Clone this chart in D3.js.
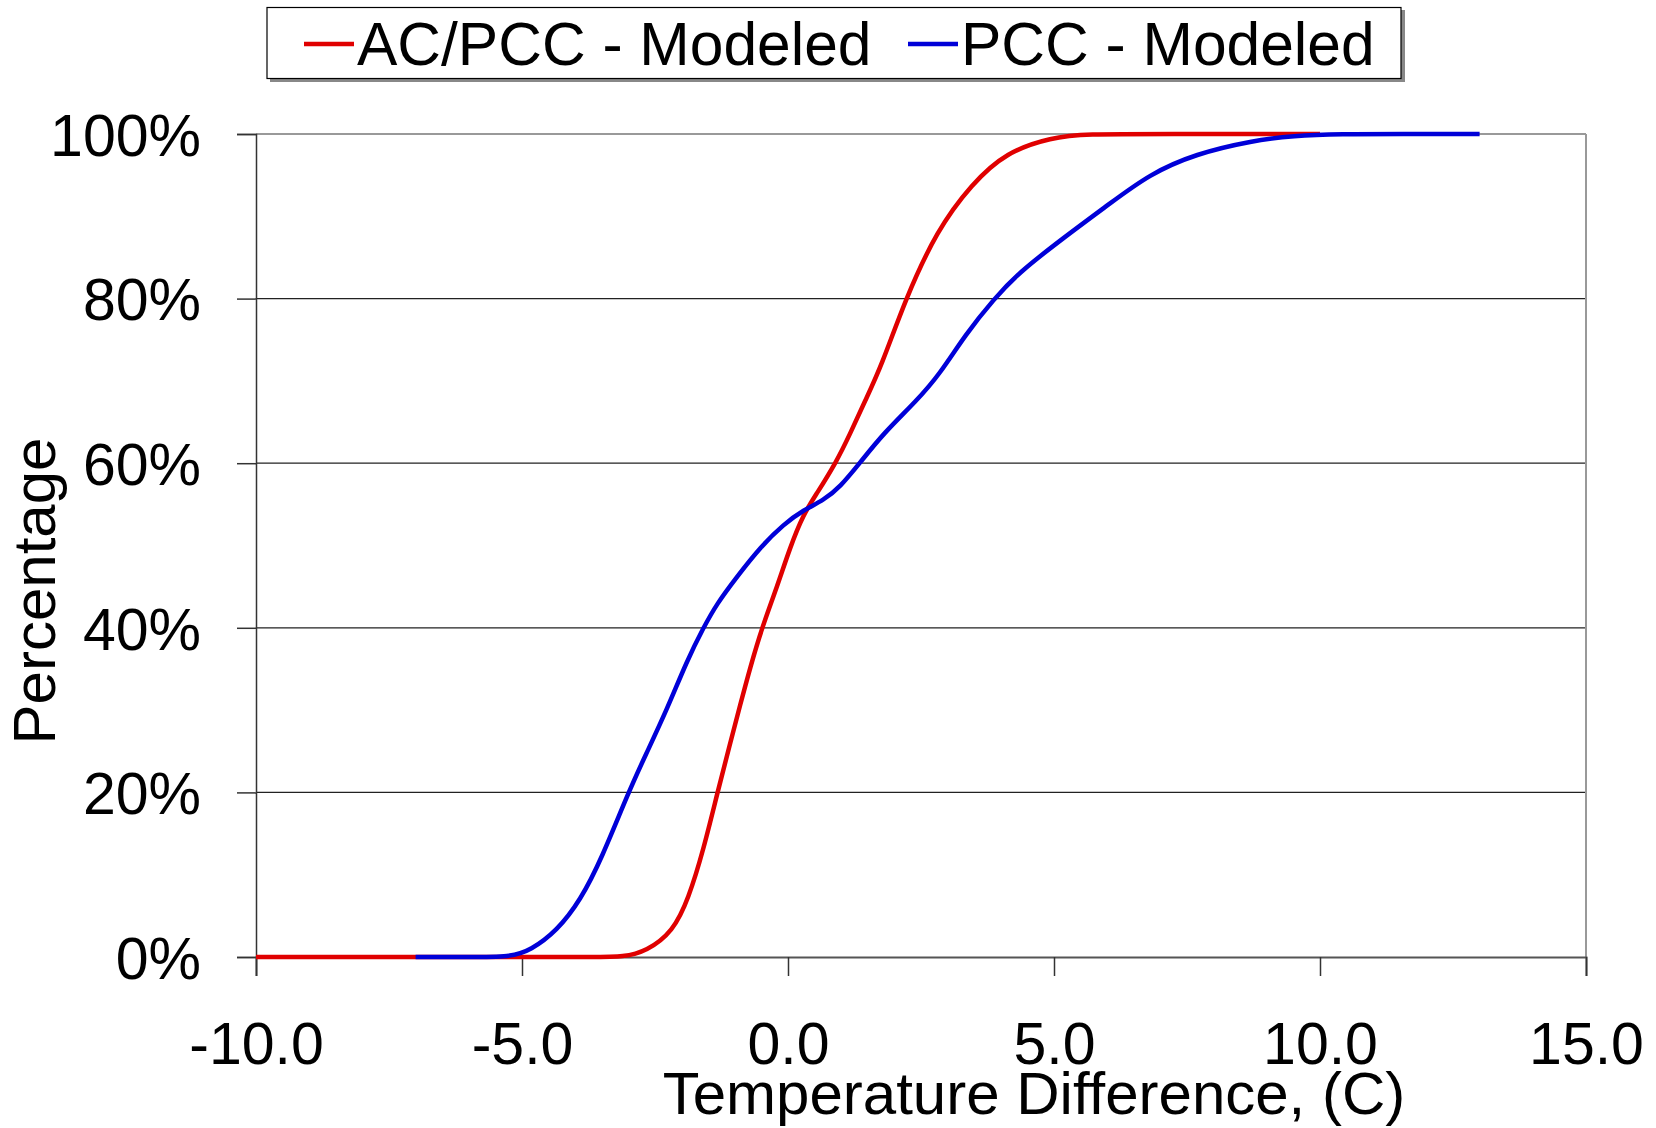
<!DOCTYPE html>
<html>
<head>
  <meta charset="utf-8">
  <title>Temperature Difference CDF</title>
<style>
body { margin: 0; background: #fff; }
text { font-family: "Liberation Sans", Arial, sans-serif; fill: #000; }
.grid line { stroke: #222; stroke-width: 1.2px; }
.series { fill: none; stroke-width: 4.5px; stroke-linejoin: round; }
</style>
</head>
<body>
<svg id="chart" width="1656" height="1128"></svg>
<script src="https://cdn.jsdelivr.net/npm/d3@7"></script>
<script>

// x: temperature difference (C), y: cumulative percentage
var acpccX = [-10, -7, -5, -3.6, -3.1, -2.66, -2.16, -1.87, -1.59, -1.325, -1.09, -0.90, -0.71, -0.49, -0.21, 0.04, 0.29, 0.54, 0.905, 1.17, 1.45, 1.75, 2.21, 2.80, 3.45, 4.10, 4.96, 5.6, 7, 10];
var acpccY = [0, 0, 0, 0, 0, 0.7, 3.1, 7.1, 13.0, 20, 25.9, 30.6, 35.2, 40, 44.9, 49.8, 53.8, 56.3, 60.1, 63.6, 67.6, 71.7, 80, 88.3, 93.9, 97.8, 99.6, 100, 100, 100];

var pccX = [-7, -6, -5.22, -4.84, -4.34, -3.90, -3.50, -3.0, -2.68, -2.28, -1.90, -1.59, -1.34, -0.96, -0.52, -0.08, 0.29, 0.67, 0.98, 1.36, 1.79, 2.42, 2.85, 3.34, 3.88, 4.31, 5.18, 6.04, 6.79, 7.66, 8.74, 9.49, 10.4, 11.5, 13.0];
var pccY = [0, 0, 0, 0.8, 3.2, 6.9, 12.0, 20, 24.5, 30.0, 36.0, 40, 42.9, 46.2, 49.8, 52.6, 54.3, 55.5, 57.1, 60.1, 63.6, 67.6, 70.8, 75.7, 80, 83, 87.4, 91.5, 95.1, 97.6, 99.2, 99.8, 100, 100, 100];

var xTicks = [-10, -5, 0, 5, 10, 15];
var yTicks = [0, 20, 40, 60, 80, 100];
var seriesNames = ["AC/PCC - Modeled", "PCC - Modeled"];
var seriesColors = ["#e00000", "#0000d8"];

var svg = d3.select("#chart");
var plotL = 256, plotR = 1586, plotT = 134, plotB = 957;

var x = d3.scaleLinear().domain([-10, 15]).range([plotL, plotR]);
var y = d3.scaleLinear().domain([0, 100]).range([plotB, plotT]);

// gridlines
svg.append("g").attr("class", "grid")
  .selectAll("line").data(yTicks.filter(function (d) { return d > 0 && d < 100; }))
  .enter().append("line")
  .attr("x1", plotL).attr("x2", plotR)
  .attr("y1", function (d) { return y(d); })
  .attr("y2", function (d) { return y(d); });

// top and right border
svg.append("line").attr("x1", plotL).attr("x2", plotR).attr("y1", plotT).attr("y2", plotT)
  .attr("stroke", "#999").attr("stroke-width", 2);
svg.append("line").attr("x1", plotR).attr("x2", plotR).attr("y1", plotT).attr("y2", plotB)
  .attr("stroke", "#999").attr("stroke-width", 2);

// axes
var yAxis = svg.append("g")
  .attr("transform", "translate(" + plotL + ",0)")
  .call(d3.axisLeft(y).tickValues(yTicks).tickSize(19).tickPadding(36)
    .tickFormat(function (d) { return d + "%"; }));
yAxis.select(".domain").attr("stroke", "#333").attr("stroke-width", 1.5);
yAxis.selectAll(".tick line").attr("stroke", "#333").attr("stroke-width", 1.5);
yAxis.selectAll(".tick text").attr("font-size", 59).attr("dy", "0.36em")
  .attr("font-family", "Liberation Sans, Arial, sans-serif").attr("fill", "#000");

var xAxis = svg.append("g")
  .attr("transform", "translate(0," + plotB + ")")
  .call(d3.axisBottom(x).tickValues(xTicks).tickSize(19).tickPadding(0));
xAxis.select(".domain").attr("stroke", "#555").attr("stroke-width", 2);
xAxis.selectAll(".tick line").attr("stroke", "#333").attr("stroke-width", 1.5);
xAxis.selectAll(".tick text").attr("font-size", 59).attr("dy", null).attr("y", 107)
  .attr("font-family", "Liberation Sans, Arial, sans-serif").attr("fill", "#000")
  .text(function (d) { return d.toFixed(1); });

// series (smoothed like the original spreadsheet lines)
var line = d3.line()
  .x(function (d) { return x(d[0]); })
  .y(function (d) { return y(d[1]); })
  .curve(d3.curveBasis);

var series = [d3.zip(acpccX, acpccY), d3.zip(pccX, pccY)];
svg.selectAll(".series").data(series).enter().append("path")
  .attr("class", "series")
  .attr("stroke", function (d, i) { return seriesColors[i]; })
  .attr("d", line);

// axis titles
svg.append("text").attr("x", 1034).attr("y", 1114)
  .attr("text-anchor", "middle").attr("font-size", 60)
  .text("Temperature Difference, (C)");
svg.append("text")
  .attr("transform", "translate(55,591) rotate(-90)")
  .attr("text-anchor", "middle").attr("font-size", 60)
  .text("Percentage");

// legend
var legend = svg.append("g");
legend.append("rect").attr("x", 270).attr("y", 10).attr("width", 1135).attr("height", 72)
  .attr("fill", "#888");
legend.append("rect").attr("x", 267).attr("y", 7.5).attr("width", 1134).attr("height", 71)
  .attr("fill", "#fff").attr("stroke", "#000").attr("stroke-width", 1.2);
var legendX = [304, 908];
seriesNames.forEach(function (name, i) {
  legend.append("line")
    .attr("x1", legendX[i]).attr("x2", legendX[i] + 50)
    .attr("y1", 44).attr("y2", 44)
    .attr("stroke", seriesColors[i]).attr("stroke-width", 4.5);
  legend.append("text").attr("x", legendX[i] + 53).attr("y", 65)
    .attr("font-size", 60.5).text(name);
});

</script>
</body>
</html>
